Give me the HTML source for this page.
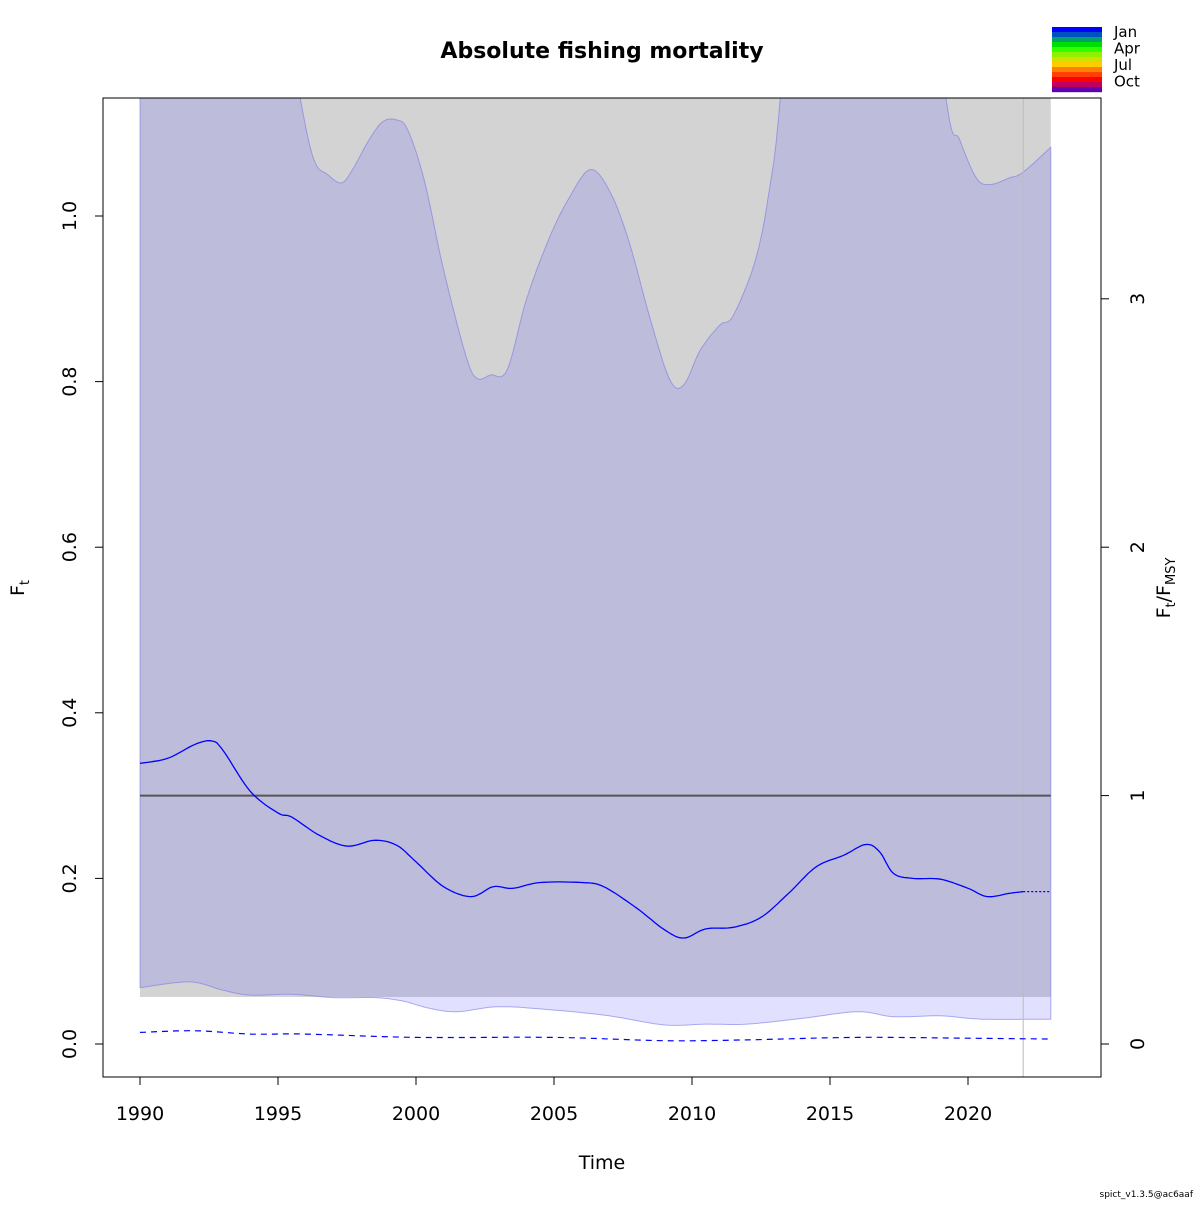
<!DOCTYPE html>
<html><head><meta charset="utf-8"><style>
body{margin:0;background:#fff}
svg text{font-family:"DejaVu Sans","Liberation Sans",sans-serif;fill:#000}
</style></head><body>
<svg id="chart" width="1200" height="1200" xmlns="http://www.w3.org/2000/svg">
<defs><clipPath id="pc"><rect x="103" y="98" width="998" height="979"/></clipPath></defs>
<text x="602" y="58" font-size="22" font-weight="bold" text-anchor="middle">Absolute fishing mortality</text>
<g id="plot" clip-path="url(#pc)"></g>
<rect x="103" y="98" width="998" height="979" fill="none" stroke="#000" stroke-width="1"/>
<g id="axes"></g>
<text x="602" y="1169" font-size="19" text-anchor="middle">Time</text>
<text transform="translate(24,588) rotate(-90)" font-size="19" text-anchor="middle">F<tspan font-size="13" dy="5">t</tspan></text>
<text transform="translate(1170,588) rotate(-90)" font-size="19" text-anchor="middle">F<tspan font-size="13" dy="5">t</tspan><tspan dy="-5">/F</tspan><tspan font-size="13" dy="5">MSY</tspan></text>
<g id="legend"></g>
<text x="1193" y="1197" font-size="9" text-anchor="end">spict_v1.3.5@ac6aaf</text>
</svg>
<script>
const ciYears=[1990,1993,1995,1995.8,1996.3,1996.8,1997.3,1997.7,1998.3,1998.8,1999.3,1999.7,2000.3,2001,2001.8,2002.2,2002.7,2003.3,2004,2004.8,2005.5,2006.3,2007,2007.7,2008.5,2009.2,2009.7,2010.3,2011,2011.5,2012.3,2012.8,2013.2,2014,2018,2019.2,2019.7,2020.3,2020.8,2021.5,2022,2023];
const ciUpper=[1.6,1.6,1.3,1.143,1.068,1.05,1.04,1.056,1.092,1.114,1.116,1.104,1.043,0.935,0.832,0.804,0.808,0.814,0.899,0.971,1.019,1.056,1.031,0.971,0.874,0.802,0.796,0.838,0.868,0.88,0.947,1.031,1.143,1.5,1.5,1.143,1.092,1.046,1.038,1.046,1.053,1.083];
const loYears=[1990,1991.8,1993,1994,1995.5,1997,1998.5,1999.5,2000.5,2001.5,2003,2005,2007,2009,2010.5,2012,2014,2016,2017.3,2019,2020.5,2023];
const ciLower=[0.068,0.075,0.065,0.059,0.06,0.056,0.056,0.052,0.043,0.039,0.045,0.041,0.034,0.023,0.024,0.024,0.031,0.039,0.033,0.034,0.03,0.03];
const estYears=[1990,1991,1992,1992.6,1993,1994,1995,1995.5,1996.5,1997.5,1998.5,1999.3,2000,2001,2002,2002.8,2003.5,2004.5,2006,2006.8,2008,2009,2009.7,2010.5,2011.5,2012.5,2013.5,2014.5,2015.5,2016.3,2016.8,2017.3,2018,2019,2020,2020.7,2021.5,2022];
const estF=[0.339,0.345,0.362,0.366,0.355,0.305,0.279,0.274,0.252,0.239,0.246,0.24,0.22,0.19,0.178,0.19,0.188,0.195,0.195,0.19,0.164,0.138,0.128,0.139,0.141,0.153,0.182,0.214,0.228,0.241,0.232,0.206,0.2,0.199,0.188,0.178,0.182,0.184];
const predYears=[2022,2023];
const predF=[0.184,0.184];
const lowYears=[1990,1992,1994,1996,2000,2005,2009,2012,2016,2020,2023];
const lowF=[0.014,0.016,0.012,0.012,0.008,0.008,0.004,0.005,0.008,0.007,0.006];
const fmsy=0.3, fmsyLow=0.0568, fmsyHigh=3.0;
const xTicks=[1990,1995,2000,2005,2010,2015,2020];
const yTicks=[0,0.2,0.4,0.6,0.8,1.0];
const rTicks=[0,1,2,3];
const months=["Jan","Apr","Jul","Oct"];

const X=t=>140+(t-1990)*27.6;
const Y=f=>1044-f*828;
const NS="http://www.w3.org/2000/svg";
function mk(tag,attrs,parent){const e=document.createElementNS(NS,tag);for(const k in attrs)e.setAttribute(k,attrs[k]);parent.appendChild(e);return e;}
function smooth(xs,ys){
  const pts=[];
  for(let i=0;i<xs.length-1;i++){
    const p0=[xs[Math.max(0,i-1)],ys[Math.max(0,i-1)]],p1=[xs[i],ys[i]],p2=[xs[i+1],ys[i+1]],p3=[xs[Math.min(xs.length-1,i+2)],ys[Math.min(xs.length-1,i+2)]];
    for(let s=0;s<10;s++){const t=s/10,t2=t*t,t3=t2*t;
      const f=(a,b,c,d)=>0.5*(2*b+(-a+c)*t+(2*a-5*b+4*c-d)*t2+(-a+3*b-3*c+d)*t3);
      pts.push([X(f(p0[0],p1[0],p2[0],p3[0])),Y(f(p0[1],p1[1],p2[1],p3[1]))]);}
  }
  pts.push([X(xs[xs.length-1]),Y(ys[ys.length-1])]);
  return pts;
}
const P=pts=>pts.map((p,i)=>(i?'L':'M')+p[0].toFixed(1)+','+p[1].toFixed(1)).join('');
const plot=document.getElementById('plot');

let g=mk('rect',{x:X(1990),y:Y(fmsyHigh),width:X(2023)-X(1990),height:Y(fmsyLow)-Y(fmsyHigh),fill:'#d3d3d3'},plot);



const up=smooth(ciYears,ciUpper), lo=smooth(loYears,ciLower);
let ci=mk('path',{d:P(up)+P(lo.slice().reverse()).replace('M','L')+'Z',fill:'rgba(88,88,255,0.18)',stroke:'rgba(120,120,230,0.6)','stroke-width':1},plot);



let vl=mk('line',{x1:X(2022),x2:X(2022),y1:98,y2:1077,stroke:'#bbb','stroke-width':1},plot);



let fl=mk('line',{x1:X(1990),x2:X(2023),y1:Y(fmsy),y2:Y(fmsy),stroke:'#555','stroke-width':2},plot);



let est=mk('path',{d:P(smooth(estYears,estF)),fill:'none',stroke:'#0000ff','stroke-width':1.3},plot);


let pr=mk('path',{d:P(smooth(predYears,predF)),fill:'none',stroke:'#0000ff','stroke-width':1.3,'stroke-dasharray':'2,2'},plot);


let lw=mk('path',{d:P(smooth(lowYears,lowF)),fill:'none',stroke:'#0000ff','stroke-width':1.2,'stroke-dasharray':'6,5'},plot);



const ax=document.getElementById('axes');
xTicks.forEach(t=>{
  const l=mk('line',{x1:X(t),x2:X(t),y1:1077,y2:1085,stroke:'#000'},ax);
  
  
  const tx=mk('text',{x:X(t),y:1120,'font-size':19,'text-anchor':'middle'},ax);tx.textContent=t;
  
  
});
mk('line',{x1:X(1990),x2:X(2020),y1:1077,y2:1077,stroke:'#000'},ax);
yTicks.forEach(v=>{
  const l=mk('line',{x1:95,x2:103,y1:Y(v),y2:Y(v),stroke:'#000'},ax);
  
  
  const tx=mk('text',{transform:`translate(76,${Y(v)}) rotate(-90)`,'font-size':19,'text-anchor':'middle'},ax);tx.textContent=v.toFixed(1);
  
  
});
rTicks.forEach(v=>{
  const yy=Y(v*fmsy);
  const l=mk('line',{x1:1101,x2:1109,y1:yy,y2:yy,stroke:'#000'},ax);
  
  
  const tx=mk('text',{transform:`translate(1144,${yy}) rotate(-90)`,'font-size':19,'text-anchor':'middle'},ax);tx.textContent=v;
  
  
});

const leg=document.getElementById('legend');
const cols=['#0000ff','#0050c0','#00a070','#00e000','#30ff00','#90f000','#d0e000','#ffcc00','#ff8000','#ff4000','#ff0000','#c00060','#6000b0'];
cols.forEach((c,i)=>{const r=mk('rect',{x:1052,y:27+i*5,width:50,height:5.2,fill:c},leg);
  
  });
months.forEach((m,i)=>{const t=mk('text',{x:1114,y:37+i*16.5,'font-size':15},leg);t.textContent=m;
  
  });
</script>
</body></html>
